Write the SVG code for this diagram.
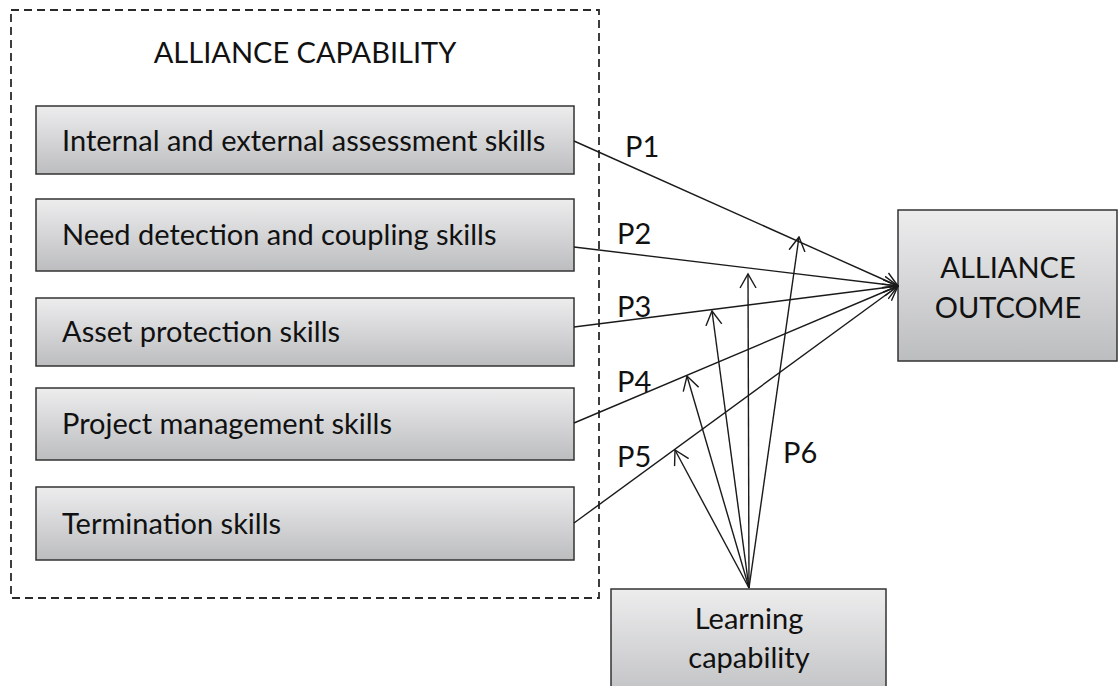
<svg xmlns="http://www.w3.org/2000/svg" width="1118" height="686" viewBox="0 0 1118 686">
<style>
  .box { fill: url(#g); stroke: #333; stroke-width: 1.5; }
  .t { font-family: Lato, "Liberation Sans", sans-serif; font-size: 29px; fill: #111; }
  .c { text-anchor: middle; }
  .ln { stroke: #1a1a1a; stroke-width: 1.4; fill: none; marker-end: url(#ah); }
</style>
<defs>
  <linearGradient id="g" x1="0" y1="0" x2="0" y2="1">
    <stop offset="0" stop-color="#ededee"/>
    <stop offset="1" stop-color="#bcbdbf"/>
  </linearGradient>
  <marker id="ah" markerUnits="userSpaceOnUse" markerWidth="16" markerHeight="18" viewBox="0 0 16 18" refX="14.5" refY="9" orient="auto">
    <path d="M0.5,1 L14.5,9 L0.5,17" fill="none" stroke="#1a1a1a" stroke-width="1.4"/>
  </marker>
</defs>
<rect width="1118" height="686" fill="#fff"/>

<g id="alliance-capability">
  <rect x="11" y="10" width="588" height="588" fill="none" stroke="#2a2a2a" stroke-width="1.8" stroke-dasharray="8,5"/>
  <text class="t c" x="305" y="63">ALLIANCE CAPABILITY</text>
</g>

<g id="n1"><rect class="box" x="36" y="106" width="538" height="68"/><text class="t" x="62" y="151">Internal and external assessment skills</text></g>
<g id="n2"><rect class="box" x="36" y="199" width="538" height="72"/><text class="t" x="62" y="245">Need detection and coupling skills</text></g>
<g id="n3"><rect class="box" x="36" y="298" width="538" height="68"/><text class="t" x="62" y="342">Asset protection skills</text></g>
<g id="n4"><rect class="box" x="36" y="388" width="538" height="72"/><text class="t" x="62" y="434">Project management skills</text></g>
<g id="n5"><rect class="box" x="36" y="487" width="538" height="73"/><text class="t" x="62" y="534">Termination skills</text></g>

<g id="outcome"><rect class="box" x="898" y="210" width="219" height="151"/>
  <text class="t c" x="1008" y="278">ALLIANCE</text>
  <text class="t c" x="1008" y="318">OUTCOME</text>
</g>

<g id="learning"><rect class="box" x="611" y="589" width="275" height="120"/>
  <text class="t c" x="749" y="629">Learning</text>
  <text class="t c" x="749" y="668">capability</text>
</g>

<g id="connectors">
  <line class="ln" x1="574" y1="141" x2="898" y2="286"/>
  <line class="ln" x1="574" y1="247" x2="898" y2="286"/>
  <line class="ln" x1="574" y1="327" x2="898" y2="286"/>
  <line class="ln" x1="574" y1="423" x2="898" y2="286"/>
  <line class="ln" x1="574" y1="523" x2="898" y2="286"/>
  <line class="ln" x1="749" y1="588" x2="675" y2="450"/>
  <line class="ln" x1="749" y1="588" x2="687" y2="376"/>
  <line class="ln" x1="749" y1="588" x2="712" y2="311"/>
  <line class="ln" x1="749" y1="588" x2="748" y2="274"/>
  <line class="ln" x1="749" y1="588" x2="799" y2="237"/>
</g>

<g id="labels">
  <text class="t" x="625" y="157">P1</text>
  <text class="t" x="617" y="244">P2</text>
  <text class="t" x="617" y="317">P3</text>
  <text class="t" x="617" y="392">P4</text>
  <text class="t" x="617" y="467">P5</text>
  <text class="t" x="783" y="463">P6</text>
</g>
</svg>
